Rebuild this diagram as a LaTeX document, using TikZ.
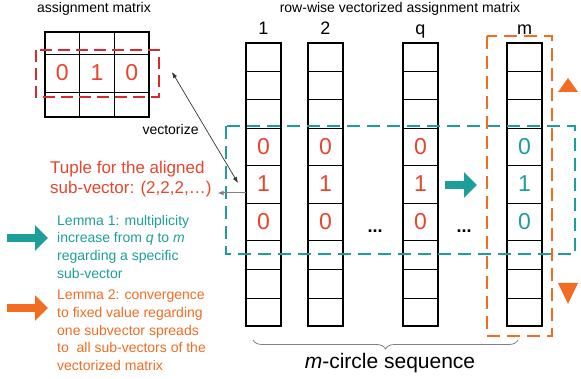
\documentclass[tikz,border=0pt]{standalone}
\usepackage{fontspec}
\setmainfont{Liberation Sans}
\usepackage{xcolor}
\usepackage{tikz}
\usetikzlibrary{arrows.meta, decorations.pathreplacing, calc}
\definecolor{hot}{HTML}{E8452C}
\definecolor{redbox}{HTML}{D62A2F}
\definecolor{sea}{HTML}{1E9E98}
\definecolor{amber}{HTML}{F26C22}
\definecolor{ink}{HTML}{333333}

\begin{document}
\begin{tikzpicture}[x=1pt, y=-1pt,
    small/.style={font=\fontsize{14}{17.5}\selectfont},
    val/.style={font=\fontsize{23}{26}\selectfont, inner sep=0pt},
    lab/.style={font=\fontsize{18}{20}\selectfont, inner sep=0pt},
    lemma/.style={anchor=north west, inner sep=0pt, align=left, font=\fontsize{14}{17.6}\selectfont},
    blockarrow/.style={line width=8pt, -{Triangle[length=13pt, width=25pt]}},
    dashbox/.style={line width=1.5pt, dash pattern=on 13pt off 7pt}]
  \useasboundingbox (0,0) rectangle (581,379);
  \def\colW{35}
  \def\colT{43}
  \def\colB{326}
  % assignment matrix
  \node[small, anchor=base] (amtitle) at (94,13) {assignment matrix};
  \draw[line width=0.6pt] (45,54) -- (149,54) (45,92) -- (149,92)
    (79.7,32) -- (79.7,117) (114.3,32) -- (114.3,117);
  \draw[line width=2.2pt] (45,32) rectangle (149,117);
  \foreach \v [count=\i from 0] in {0,1,0}
    \node[val, text=hot] (am\i) at (62.3+\i*34.7,73) {\v};
  \draw[redbox, line width=1.8pt, dash pattern=on 12pt off 6pt] (36,50) rectangle (159,97);
  % vectorized columns
  \node[small, anchor=base] (vtitle) at (400,12.5) {row-wise vectorized assignment matrix};
  \foreach \cx/\lbl/\cc [count=\k] in {246/1/hot, 308/2/hot, 403/q/hot, 507/m/sea} {
    \fill[white] (\cx,\colT) rectangle (\cx+\colW,\colB);
    \foreach \ry in {71,99,128,165.5,203,240.5,269,298}
      \draw[line width=0.6pt] (\cx,\ry) -- (\cx+\colW,\ry);
    \draw[line width=2.2pt] (\cx,\colT) rectangle (\cx+\colW,\colB);
    \node[lab, anchor=base] (lbl\k) at (\cx+\colW/2,34.5) {\lbl};
    \foreach \v/\vy [count=\j] in {0/146.5, 1/184, 0/221.5}
      \node[val, text=\cc] (v\k\j) at (\cx+\colW/2,\vy) {\v};
  }
  \node[lab, anchor=base] (dotsA) at (375,233) {\textbf{...}};
  \node[lab, anchor=base] (dotsB) at (464,233) {\textbf{...}};
  % aligned sub-vector and spreading
  \draw[sea, dashbox] (226,126) rectangle (575,254);
  \draw[amber, dashbox] (487,36) rectangle (552,336);
  \fill[amber] (558,92) -- (578,92) -- (568,78) -- cycle;
  \fill[amber] (558,283) -- (578,283) -- (568,304) -- cycle;
  \draw[sea, blockarrow] (445,185) -- (477,185);
  % vectorize
  \node[small, anchor=base west] (vec) at (139,135) {vectorize};
  \coordinate (vecA) at (172,72);
  \coordinate (vecB) at (238,183);
  \draw[ink, line width=0.7pt, {Latex[length=6pt, width=4.5pt]}-{Latex[length=6pt, width=4.5pt]}] (vecA) -- (vecB);
  % tuple
  \node[anchor=north west, inner sep=0pt, align=left, text=hot, font=\fontsize{17}{20}\selectfont]
    (tuple) at (50,161) {Tuple for the aligned\\sub-vector: (2,2,2,\dots)};
  \coordinate (c1left) at (246,193);
  \draw[gray, line width=1pt, -{Latex[length=6pt, width=5pt]}] (c1left) -- ([xshift=6pt]tuple.east |- c1left);
  % lemmas
  \node[lemma, text=sea] (lem1) at (57,215)
    {Lemma 1: multiplicity\\increase from \textit{q} to \textit{m}\\regarding a specific\\sub-vector};
  \draw[sea, blockarrow] (7,238) -- (48,238);
  \node[lemma, text=amber] (lem2) at (57,290)
    {Lemma 2: convergence\\to fixed value regarding\\one subvector spreads\\to~ all sub-vectors of the\\vectorized matrix};
  \draw[amber, blockarrow] (7,308) -- (48,308);
  % m-circle sequence
  \coordinate (brL) at (253,340);
  \coordinate (brR) at (518,340);
  \draw[gray, line width=0.8pt, decorate, decoration={brace, mirror, amplitude=9pt}] (brL) -- (brR);
  \node[anchor=base, font=\fontsize{21}{24}\selectfont] (seq) at (390,368) {\textit{m}-circle sequence};
\end{tikzpicture}
\end{document}
